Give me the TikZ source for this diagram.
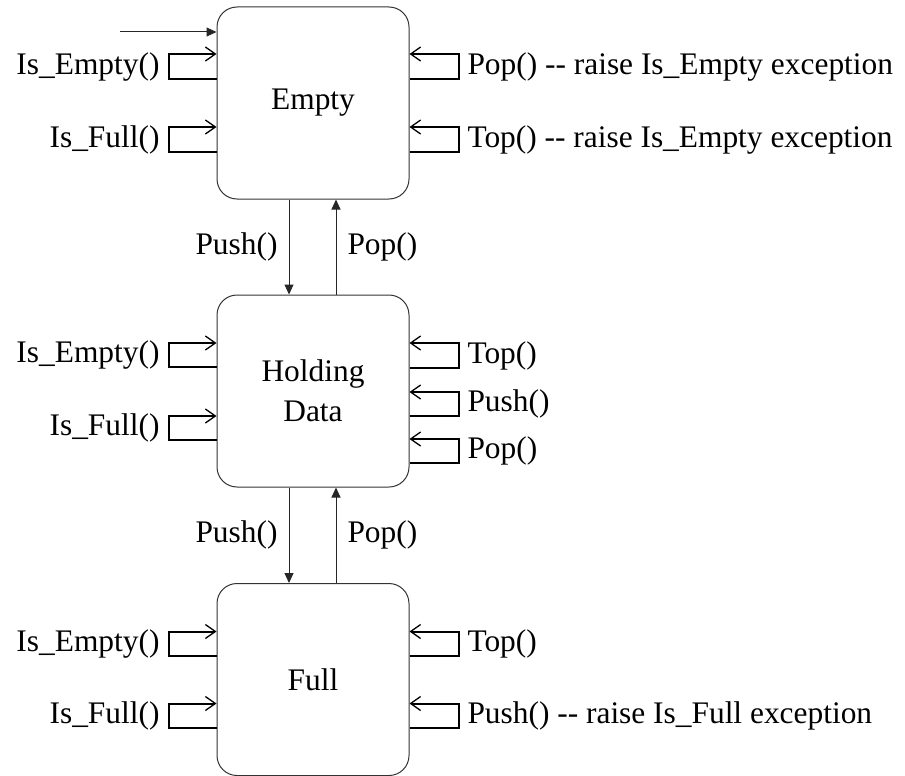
\documentclass[tikz,border=0pt]{standalone}
\usepackage{fontspec}
\setmainfont{Liberation Serif}
\usetikzlibrary{positioning,arrows.meta}

\tikzset{
  state/.style={draw=black!80, line width=1pt, rounded corners=20pt,
    minimum width=192pt, minimum height=192pt, align=center,
    font=\fontsize{31.4}{40}\selectfont},
  lbl/.style={inner sep=8pt, font=\fontsize{31.4}{40}\selectfont},
  trans/.style={draw=black!85, line width=1pt, -{Triangle[width=9pt,length=10pt]}},
  selfloop/.style={line width=2pt, -{Straight Barb[length=10pt,width=14pt,line width=1.3pt]}}
}

\begin{document}
\begin{tikzpicture}[x=1pt,y=1pt]
\useasboundingbox (0,0) rectangle (905,-776);
\node[state] (empty) at (313,-103) {Empty};
\node[state] (holding) at (313,-391) {Holding\\Data};
\node[state] (full) at (313,-679.5) {Full};
\coordinate (init) at (120,-32);
\draw[trans] (init) -- (init -| empty.west);
% empty
\draw[selfloop] ([yshift=24pt]empty.west) -- ++(-48,0) |- node[lbl,pos=.25,left]{Is\_Empty()} ([yshift=49pt]empty.west);
\draw[selfloop] ([yshift=-49pt]empty.west) -- ++(-48,0) |- node[lbl,pos=.25,left]{Is\_Full()} ([yshift=-24pt]empty.west);
\draw[selfloop] ([yshift=24pt]empty.east) -- ++(49,0) |- node[lbl,pos=.25,right]{Pop() -{}- raise Is\_Empty exception} ([yshift=49pt]empty.east);
\draw[selfloop] ([yshift=-49pt]empty.east) -- ++(49,0) |- node[lbl,pos=.25,right]{Top() -{}- raise Is\_Empty exception} ([yshift=-24pt]empty.east);
\draw[trans] ([xshift=-24pt]empty.south) -- node[lbl,left=3pt]{Push()} ([xshift=-24pt]holding.north);
\draw[trans] ([xshift=23pt]holding.north) -- node[lbl,right=3pt]{Pop()} ([xshift=23pt]empty.south);
% holding data
\draw[selfloop] ([yshift=24pt]holding.west) -- ++(-48,0) |- node[lbl,pos=.25,left]{Is\_Empty()} ([yshift=48pt]holding.west);
\draw[selfloop] ([yshift=-49pt]holding.west) -- ++(-48,0) |- node[lbl,pos=.25,left]{Is\_Full()} ([yshift=-25pt]holding.west);
\draw[selfloop] ([yshift=23pt]holding.east) -- ++(49,0) |- node[lbl,pos=.25,right]{Top()} ([yshift=48pt]holding.east);
\draw[selfloop] ([yshift=-25pt]holding.east) -- ++(49,0) |- node[lbl,pos=.25,right]{Push()} ([yshift=-1pt]holding.east);
\draw[selfloop] ([yshift=-72pt]holding.east) -- ++(49,0) |- node[lbl,pos=.25,right]{Pop()} ([yshift=-48pt]holding.east);
\draw[trans] ([xshift=-24pt]holding.south) -- node[lbl,left=3pt]{Push()} ([xshift=-24pt]full.north);
\draw[trans] ([xshift=23pt]full.north) -- node[lbl,right=3pt]{Pop()} ([xshift=23pt]holding.south);
% full
\draw[selfloop] ([yshift=24pt]full.west) -- ++(-48,0) |- node[lbl,pos=.25,left]{Is\_Empty()} ([yshift=48pt]full.west);
\draw[selfloop] ([yshift=-48pt]full.west) -- ++(-48,0) |- node[lbl,pos=.25,left]{Is\_Full()} ([yshift=-24pt]full.west);
\draw[selfloop] ([yshift=24pt]full.east) -- ++(49,0) |- node[lbl,pos=.25,right]{Top()} ([yshift=48pt]full.east);
\draw[selfloop] ([yshift=-48pt]full.east) -- ++(49,0) |- node[lbl,pos=.25,right]{Push() -{}- raise Is\_Full exception} ([yshift=-24pt]full.east);
\end{tikzpicture}
\end{document}
